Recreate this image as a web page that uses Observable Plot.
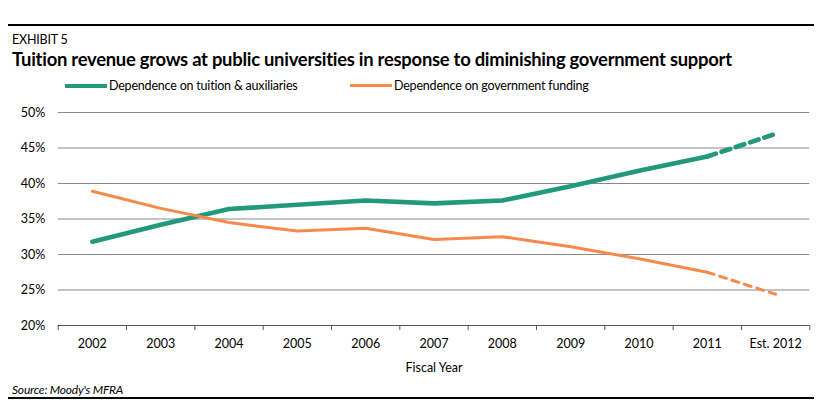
<!DOCTYPE html>
<html>
<head>
<meta charset="utf-8">
<script src="https://cdn.jsdelivr.net/npm/d3@7"></script>
<script src="https://cdn.jsdelivr.net/npm/@observablehq/plot@0.6"></script>
<style>
  html, body { margin: 0; padding: 0; background: #fff; }
  body { width: 822px; height: 410px; position: relative; overflow: hidden;
         font-family: Lato, "Open Sans", sans-serif; color: #000; }
  .rule { position: absolute; left: 8px; width: 806px; background: #000; }
  #exhibit { position: absolute; left: 12px; top: 32px; font-size: 12.5px; letter-spacing: -0.2px; }
  #title { position: absolute; left: 12px; top: 48px; font-size: 18.4px; font-weight: bold; white-space: nowrap; letter-spacing: -0.25px; }
  #legend { position: absolute; top: 78px; left: 0; font-size: 12.5px; white-space: nowrap; letter-spacing: -0.2px; }
  .lg { position: absolute; top: 0; display: flex; align-items: center; }
  .sw { display: inline-block; width: 42px; margin-right: 2px; }
  #chart { position: absolute; left: 0; top: 100px; }
  #source { position: absolute; left: 12px; top: 382px; font-size: 12px; font-style: italic; letter-spacing: -0.2px; }
</style>
</head>
<body>
<div class="rule" style="top:24px;height:2px"></div>
<div id="exhibit">EXHIBIT 5</div>
<div id="title">Tuition revenue grows at public universities in response to diminishing government support</div>
<div id="legend"></div>
<div id="chart"></div>
<div id="source">Source: Moody's MFRA</div>
<div class="rule" style="top:397px;height:1.5px"></div>
<script>
const years = ["2002","2003","2004","2005","2006","2007","2008","2009","2010","2011","Est. 2012"];
const tuition = [31.8, 34.2, 36.4, 37.0, 37.6, 37.2, 37.6, 39.6, 41.8, 43.8, 47.0];
const government = [38.9, 36.5, 34.5, 33.3, 33.7, 32.1, 32.5, 31.1, 29.4, 27.5, 24.4];
const seriesNames = ["Dependence on tuition & auxiliaries", "Dependence on government funding"];
const seriesColors = ["#21997a", "#f68a4c"];
const seriesWidths = [4.6, 3];
const yTicks = [20, 25, 30, 35, 40, 45, 50];
const estimateFrom = 9; // index of last actual year

// legend
const legend = document.getElementById("legend");
const legendX = [65, 350];
seriesNames.forEach((n, i) => {
  const d = document.createElement("div");
  d.className = "lg";
  d.style.left = legendX[i] + "px";
  d.innerHTML = `<span class="sw" style="background:${seriesColors[i]};height:${i === 0 ? 4 : 3.5}px"></span><span>${n}</span>`;
  legend.appendChild(d);
});

const rows = (vals, s) => vals.map((v, i) => ({i, v, s}));
const all = [rows(tuition, 0), rows(government, 1)];

const marks = [
  Plot.ruleY(yTicks.filter(t => t > 20), {stroke: "#888", strokeWidth: 1}),
  Plot.ruleY([20], {stroke: "#555", strokeWidth: 1.2}),
  Plot.axisY({ticks: yTicks, tickFormat: d => d + "%", tickSize: 0, tickPadding: 13, fontSize: 12.5, label: null}),
  Plot.axisX({ticks: d3.range(-0.5, years.length, 1), tickFormat: () => "", tickSize: 5, stroke: "#555", label: null}),
  Plot.axisX({ticks: d3.range(0, years.length), tickFormat: i => years[i], tickSize: 0, tickPadding: 14, fontSize: 12.5,
              label: "Fiscal Year", labelAnchor: "center", labelArrow: "none", labelOffset: 46})
];
all.forEach((data, s) => {
  marks.push(Plot.line(data.filter(d => d.i <= estimateFrom), {x: "i", y: "v", stroke: seriesColors[s], strokeWidth: seriesWidths[s], curve: "linear"}));
  marks.push(Plot.line(data.filter(d => d.i >= estimateFrom), {x: "i", y: "v", stroke: seriesColors[s], strokeWidth: seriesWidths[s],
    strokeDasharray: s === 0 ? "9,6" : "7,6", strokeLinecap: "round"}));
});

const chart = Plot.plot({
  width: 822,
  height: 280,
  marginTop: 12,
  marginBottom: 55,
  marginLeft: 57.7,
  marginRight: 12.7,
  style: {fontFamily: 'Lato, "Open Sans", sans-serif', fontSize: "12.5px", color: "#000", background: "transparent"},
  x: {type: "linear", domain: [-0.5, years.length - 0.5], label: null},
  y: {domain: [20, 50], label: null},
  marks
});
document.getElementById("chart").appendChild(chart);
</script>
</body>
</html>
